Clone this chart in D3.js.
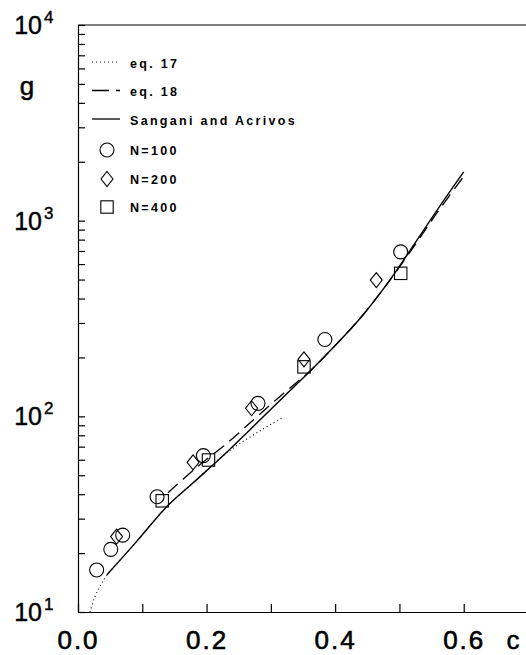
<!DOCTYPE html>
<html>
<head>
<meta charset="utf-8">
<script src="https://cdn.jsdelivr.net/npm/d3@7"></script>
<style>
  html, body { margin: 0; padding: 0; background: #fff; }
  svg { display: block; }
  text { font-family: "Liberation Sans", Arial, Helvetica, sans-serif; fill: #000; }
</style>
</head>
<body>
<svg id="chart" width="526" height="655"></svg>
<script>
// Sangani and Acrivos (solid curve)
const saC = [0.045, 0.09, 0.138, 0.18, 0.226, 0.27, 0.32, 0.36, 0.40, 0.44, 0.48, 0.52, 0.56, 0.60];
const saG = [15.5, 22.7, 34.5, 46, 63, 87, 126, 169, 230, 320, 471, 733, 1150, 1775];

// eq. 17 (dotted curve)
const eq17C = [0.0187, 0.026, 0.034, 0.045, 0.09, 0.138, 0.18, 0.226, 0.25, 0.285, 0.317];
const eq17G = [10, 11.9, 13.5, 15.4, 22.7, 34.5, 46, 63, 72, 85, 98];

// eq. 18 (dashed curve)
const eq18C = [0.14, 0.185, 0.23, 0.27, 0.31, 0.34, 0.36, 0.40, 0.44, 0.48, 0.52, 0.56, 0.598];
const eq18G = [40.7, 55, 72, 94, 123, 149, 169, 230, 320, 471, 718, 1115, 1650];

// Simulation results
const n100C = [0.029, 0.051, 0.0695, 0.123, 0.195, 0.280, 0.384, 0.502];
const n100G = [16.4, 20.9, 24.7, 38.8, 63, 116.5, 247, 693];
const n200C = [0.060, 0.179, 0.270, 0.3515, 0.464];
const n200G = [24.3, 58.2, 110, 195.5, 497];
const n400C = [0.131, 0.203, 0.3515, 0.502];
const n400G = [37, 59.8, 179, 538];

// Axis ticks and labels
const xTicks = [0, 0.1, 0.2, 0.3, 0.4, 0.5, 0.6];
const xLabelTicks = [0, 0.2, 0.4, 0.6];
const yDecades = [10, 100, 1000, 10000];
const legendLabels = ["eq. 17", "eq. 18", "Sangani and Acrivos", "N=100", "N=200", "N=400"];

const svg = d3.select("#chart");
const x = d3.scaleLinear().domain([0, 0.7]).range([78, 528]);
const y = d3.scaleLog().domain([10, 10000]).range([612, 25]);

const zip = (cs, gs) => cs.map((c, i) => [c, gs[i]]);
const line = d3.line().x(d => x(d[0])).y(d => y(d[1])).curve(d3.curveCatmullRom.alpha(0.5));

// Ticks on the log axis (1..9 per decade)
const yMinor = [];
[10, 100, 1000].forEach(b => { for (let k = 1; k <= 9; k++) yMinor.push(b * k); });
yMinor.push(10000);

// Left axis
svg.append("g")
  .attr("transform", `translate(${x(0)},0)`)
  .call(d3.axisLeft(y).tickValues(yMinor).tickSize(-7).tickSizeOuter(0).tickFormat(""))
  .call(g => g.selectAll("line, path").attr("stroke", "#000").attr("stroke-width", 1.2));

// Bottom axis
svg.append("g")
  .attr("transform", `translate(0,${y(10)})`)
  .call(d3.axisBottom(x).tickValues(xTicks).tickSize(-8).tickSizeOuter(0).tickPadding(19)
    .tickFormat(d => xLabelTicks.some(v => Math.abs(v - d) < 1e-9) ? d3.format(".1f")(d) : ""))
  .call(g => g.selectAll("line, path").attr("stroke", "#000").attr("stroke-width", 1.2))
  .call(g => g.selectAll("text")
    .attr("fill", "#000")
    .attr("stroke", "#000").attr("stroke-width", 0.6)
    .style("font-family", '"Liberation Sans", Arial, sans-serif')
    .style("font-size", "26px")
    .style("letter-spacing", "2px"));

// Top frame line
svg.append("line")
  .attr("x1", x(0)).attr("x2", x(0.7))
  .attr("y1", y(10000)).attr("y2", y(10000))
  .attr("stroke", "#000").attr("stroke-width", 1.2);

// Decade labels 10^n
const yl = svg.append("g").attr("stroke", "#000").attr("stroke-width", 0.4);
yDecades.forEach(d => {
  yl.append("text")
    .attr("x", 42).attr("y", y(d) + 9)
    .attr("text-anchor", "end")
    .style("font-size", "25px")
    .text("10");
  yl.append("text")
    .attr("x", 44).attr("y", y(d) - 2)
    .style("font-size", "17px")
    .text(String(Math.round(Math.log10(d))));
});

// Axis titles
svg.append("text").attr("x", 27).attr("y", 95).attr("text-anchor", "middle")
  .attr("stroke", "#000").attr("stroke-width", 0.5)
  .style("font-size", "26px").text("g");
svg.append("text").attr("x", 513).attr("y", 649).attr("text-anchor", "middle")
  .attr("stroke", "#000").attr("stroke-width", 0.5)
  .style("font-size", "26px").text("c");

// Curves
svg.append("path").datum(zip(eq17C, eq17G)).attr("d", line)
  .attr("fill", "none").attr("stroke", "#000").attr("stroke-width", 1.1).attr("stroke-dasharray", "1,3");
svg.append("path").datum(zip(eq18C, eq18G)).attr("d", line)
  .attr("fill", "none").attr("stroke", "#000").attr("stroke-width", 1.3).attr("stroke-dasharray", "13,7");
svg.append("path").datum(zip(saC, saG)).attr("d", line)
  .attr("fill", "none").attr("stroke", "#000").attr("stroke-width", 1.4);

// Marker shapes
function drawMarker(g, type, cx, cy) {
  if (type === "circle") {
    g.append("circle").attr("cx", cx).attr("cy", cy).attr("r", 7)
      .attr("fill", "none").attr("stroke", "#000").attr("stroke-width", 1.1);
  } else if (type === "diamond") {
    g.append("path")
      .attr("d", `M${cx},${cy - 7.5}L${cx + 6},${cy}L${cx},${cy + 7.5}L${cx - 6},${cy}Z`)
      .attr("fill", "none").attr("stroke", "#000").attr("stroke-width", 1.1);
  } else {
    g.append("rect").attr("x", cx - 6.2).attr("y", cy - 6.2).attr("width", 12.4).attr("height", 12.4)
      .attr("fill", "none").attr("stroke", "#000").attr("stroke-width", 1.1);
  }
}

const pts = svg.append("g");
zip(n100C, n100G).forEach(d => drawMarker(pts, "circle", x(d[0]), y(d[1])));
zip(n200C, n200G).forEach(d => drawMarker(pts, "diamond", x(d[0]), y(d[1])));
zip(n400C, n400G).forEach(d => drawMarker(pts, "square", x(d[0]), y(d[1])));

// Legend
const legendRows = [63, 91.5, 120, 150, 179, 207];
const leg = svg.append("g");
const lineStyles = ["1,3", "17,7", null];
legendLabels.forEach((label, i) => {
  const ry = legendRows[i];
  if (i < 3) {
    const l = leg.append("line").attr("x1", 92).attr("x2", 120).attr("y1", ry - 1).attr("y2", ry - 1)
      .attr("stroke", "#000").attr("stroke-width", i === 0 ? 1.1 : 1.3);
    if (lineStyles[i]) l.attr("stroke-dasharray", lineStyles[i]);
  } else {
    drawMarker(leg, ["circle", "diamond", "square"][i - 3], 107, ry);
  }
  leg.append("text").attr("x", 130).attr("y", ry + 4.5)
    .style("font-size", "12.5px").style("font-weight", "bold").style("letter-spacing", "2.3px")
    .text(label);
});
</script>
</body>
</html>
